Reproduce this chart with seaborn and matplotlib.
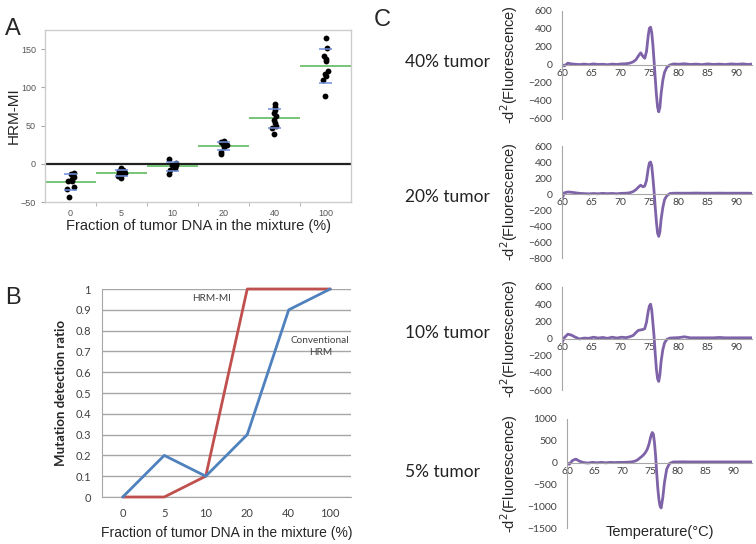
import matplotlib.pyplot as plt
import numpy as np
import pandas as pd
import seaborn as sns

# Panel A: HRM-MI values per fraction of tumor DNA
frac_labels = ["0", "5", "10", "20", "40", "100"]
hrm_mi_0 = [-12, -14, -17, -20, -22, -23, -30, -33, -43]
hrm_mi_5 = [-6, -8, -9, -10, -12, -13, -14, -16, -18]
hrm_mi_10 = [6, 1, -1, -2, -4, -5, -8, -13]
hrm_mi_20 = [30, 28, 27, 26, 25, 24, 22, 15, 13]
hrm_mi_40 = [78, 74, 70, 66, 62, 57, 53, 50, 47, 39]
hrm_mi_100 = [165, 151, 141, 137, 135, 121, 118, 115, 109, 89]

# Panel B: mutation detection ratio
ratio_hrm_mi = [0, 0, 0.1, 1, 1, 1]
ratio_conventional = [0, 0.2, 0.1, 0.3, 0.9, 1]

# Panel C: melting curves (-d2 fluorescence vs temperature)
melt_temp = [60.0, 60.4, 61.0, 61.6, 62.3, 63.0, 63.8, 64.6, 65.4, 66.2,
             67.0, 67.8, 68.6, 69.4, 70.2, 71.0, 71.6, 72.2, 72.7, 73.1,
             73.5, 73.9, 74.2, 74.5, 74.8, 75.0, 75.2, 75.4, 75.6, 75.8,
             76.0, 76.2, 76.4, 76.6, 76.8, 77.0, 77.3, 77.6, 78.0, 78.5,
             79.2, 80.0, 81.0, 82.0, 83.0, 84.0, 85.0, 86.0, 87.0, 88.0,
             89.0, 90.0, 91.0, 92.0, 92.6, 93.4]
melt_40 = [5, -10, 20, 12, 8, 5, 10, 4, 12, 6,
           8, 3, 10, 6, 12, 14, 20, 35, 60, 100,
           135, 95, 75, 150, 330, 410, 420, 360, 220, 40,
           -150, -330, -470, -520, -470, -320, -170, -80, -25, 0,
           12, 8, 14, 6, 10, 4, 12, 6, 10, 5,
           12, 8, 12, 6, 10, 10]
melt_20 = [-60, 15, 25, 22, 15, 8, 5, 2, 6, 3,
           8, 4, 7, 3, 8, 10, 15, 30, 55, 85,
           110, 90, 100, 170, 320, 390, 400, 350, 200, 30,
           -170, -350, -490, -530, -470, -320, -170, -70, -20, 5,
           10, 10, 10, 10, 12, 10, 10, 10, 11, 10,
           10, 10, 10, 10, 8, 8]
melt_10 = [-50, 10, 50, 40, 15, -5, 5, 2, 15, 5,
           12, 2, 15, 5, 15, 10, 20, 35, 70, 95,
           100, 105, 115, 190, 320, 380, 400, 330, 180, 20,
           -180, -360, -470, -500, -420, -270, -130, -50, -10, 5,
           8, 10, 20, 8, 8, 8, 8, 8, 12, 8,
           8, 8, 8, 8, 8, 8]
melt_5 = [0, -40, 50, 80, 30, 0, -10, 5, -5, 5,
          -5, 5, 0, 5, 5, 10, 15, 30, 60, 100,
          140, 190, 240, 310, 420, 530, 630, 690, 650, 450,
          150, -250, -600, -850, -1000, -1040, -800, -450, -150, -20,
          15, 15, 18, 15, 15, 15, 15, 15, 15, 15,
          15, 15, 15, 15, 15, 15]


def main() -> None:
    sns.set_style("white")
    plt.rcParams["font.family"] = ["Liberation Sans", "DejaVu Sans"]

    W, H = 756, 544
    fig = plt.figure(figsize=(W / 100, H / 100), dpi=100)

    def box(left, top, right, bottom):
        return [left / W, 1 - bottom / H, (right - left) / W, (bottom - top) / H]

    # --- PANEL A ---
    ax_a = fig.add_axes(box(45, 30, 351, 202))
    rows = []
    for lab, vals in zip(frac_labels, [hrm_mi_0, hrm_mi_5, hrm_mi_10,
                                       hrm_mi_20, hrm_mi_40, hrm_mi_100]):
        rows += [(lab, v) for v in vals]
    df_a = pd.DataFrame(rows, columns=["fraction", "hrm_mi"])

    ax_a.axhline(0, color="#222222", lw=1.6, zorder=1)
    np.random.seed(4)
    sns.stripplot(data=df_a, x="fraction", y="hrm_mi", order=frac_labels,
                  color="black", size=4.2, jitter=0.07, ax=ax_a, zorder=3)
    stats = df_a.groupby("fraction", sort=False)["hrm_mi"].agg(["mean", "std"])
    for i, lab in enumerate(frac_labels):
        m, s = stats.loc[lab, "mean"], stats.loc[lab, "std"]
        ax_a.hlines(m, i - 0.5, i + 0.5, color="#6cbf6c", lw=1.3, zorder=2)
        ax_a.hlines([m - s, m + s], i - 0.13, i + 0.13, color="#6f8fdc", lw=1.1, zorder=4)

    ax_a.set_xlim(-0.5, 5.5)
    ax_a.set_ylim(-50, 175)
    ax_a.set_yticks([-50, 0, 50, 100, 150])
    ax_a.set_xticks(range(6))
    ax_a.set_xticks(np.arange(0.5, 5, 1), minor=True)
    ax_a.tick_params(axis="x", which="major", length=0, labelsize=6.5, labelcolor="#555555", pad=5)
    ax_a.tick_params(axis="x", which="minor", length=3, color="#aaaaaa", direction="out", bottom=True)
    ax_a.tick_params(axis="y", length=3, color="#aaaaaa", labelsize=6.5, labelcolor="#555555",
                     direction="out", left=True)
    for sp in ax_a.spines.values():
        sp.set_color("#cccccc")
        sp.set_linewidth(1.0)
    ax_a.set_xlabel("Fraction of tumor DNA in the mixture (%)", fontsize=10.5, labelpad=1)
    ax_a.set_ylabel("HRM-MI", fontsize=11)
    ax_a.yaxis.set_label_coords(21 / W, 1 - 116 / H, transform=fig.transFigure)
    fig.text(13 / W, 1 - 29 / H, "A", fontsize=17, ha="center", va="center")

    # --- PANEL B ---
    ax_b = fig.add_axes(box(102, 289, 351, 497))
    df_b = pd.DataFrame({
        "fraction": frac_labels * 2,
        "ratio": ratio_hrm_mi + ratio_conventional,
        "method": ["HRM-MI"] * 6 + ["Conventional HRM"] * 6,
    })
    sns.lineplot(data=df_b, x="fraction", y="ratio", hue="method", sort=False,
                 palette={"HRM-MI": "#C0504D", "Conventional HRM": "#4F81BD"},
                 lw=2, legend=False, ax=ax_b, zorder=3)
    for ln in ax_b.lines:
        ln.set_clip_on(False)
    ax_b.set_xlim(-0.5, 5.5)
    ax_b.set_ylim(0, 1)
    ax_b.set_yticks(np.round(np.arange(0, 1.01, 0.1), 1))
    ax_b.set_yticklabels(["0"] + [f"{v:.1f}" for v in np.arange(0.1, 0.95, 0.1)] + ["1"])
    ax_b.yaxis.grid(True, color="#a6a6a6", lw=1)
    ax_b.xaxis.grid(False)
    ax_b.tick_params(length=0, labelsize=8, labelcolor="#404040", pad=8,
                     labelfontfamily="Lato")
    ax_b.spines["top"].set_visible(False)
    ax_b.spines["right"].set_visible(False)
    ax_b.spines["left"].set_color("#a6a6a6")
    ax_b.spines["bottom"].set_color("#a6a6a6")
    ax_b.text(2.14, 0.952, "HRM-MI", fontsize=7.2, ha="center", va="center",
              color="#404040", family="Lato")
    ax_b.text(4.76, 0.723, "Conventional\nHRM", fontsize=7.2, ha="center", va="center",
              color="#404040", family="Lato", linespacing=1.35)
    ax_b.set_xlabel("Fraction of tumor DNA in the mixture (%)", fontsize=10, labelpad=5)
    ax_b.set_ylabel("Mutation detection ratio", fontsize=9.5, fontweight="bold",
                    family="Lato", labelpad=6)
    fig.text(13 / W, 1 - 298 / H, "B", fontsize=17, ha="center", va="center")

    # --- PANEL C ---
    fig.text(382 / W, 1 - 20 / H, "C", fontsize=17, ha="center", va="center")
    panels = [
        (melt_40, "40% tumor", (562, 11, 752, 119), (60, 92.6), (-600, 600, 200), 62),
        (melt_20, "20% tumor", (562, 146, 752, 258), (60, 92.6), (-800, 600, 200), 197),
        (melt_10, "10% tumor", (562, 287, 752, 390), (60, 92.6), (-600, 600, 200), 333),
        (melt_5, "5% tumor", (567, 419, 752, 528), (60, 93.4), (-1500, 1000, 500), 472),
    ]
    for vals, name, (l, t, r, b), xlim, (ylo, yhi, ystep), label_y in panels:
        ax = fig.add_axes(box(l, t, r, b))
        sns.lineplot(x=melt_temp, y=vals, color="#7F63A8", lw=2, ax=ax)
        ax.set_xlim(*xlim)
        ax.set_ylim(ylo, yhi)
        ax.set_xticks(range(60, 91, 5))
        ax.set_yticks(range(ylo, yhi + 1, ystep))
        ax.spines["top"].set_visible(False)
        ax.spines["right"].set_visible(False)
        ax.spines["bottom"].set_position(("data", 0))
        ax.spines["bottom"].set_color("#a6a6a6")
        ax.spines["left"].set_color("#a6a6a6")
        ax.tick_params(axis="x", length=0, labelsize=7.5, labelcolor="#404040", pad=3,
                       labelfontfamily="Lato")
        ax.tick_params(axis="y", length=0, labelsize=7.5, labelcolor="#404040", pad=7,
                       labelfontfamily="Lato")
        ax.set_ylabel("-d$^2$(Fluorescence)", fontsize=10.5)
        ax.yaxis.set_label_coords(520 / W, 1 - (t + b) / 2 / H, transform=fig.transFigure)
        fig.text(405 / W, 1 - label_y / H, name, fontsize=12.5, family="Lato",
                 ha="left", va="center", color="#222222")
        if name == "5% tumor":
            fig.text(660 / W, 1 - 532 / H, "Temperature(°C)", fontsize=10.5,
                     ha="center", va="center")

    fig.savefig("out.png", dpi=100)
    plt.close(fig)


if __name__ == "__main__":
    main()
